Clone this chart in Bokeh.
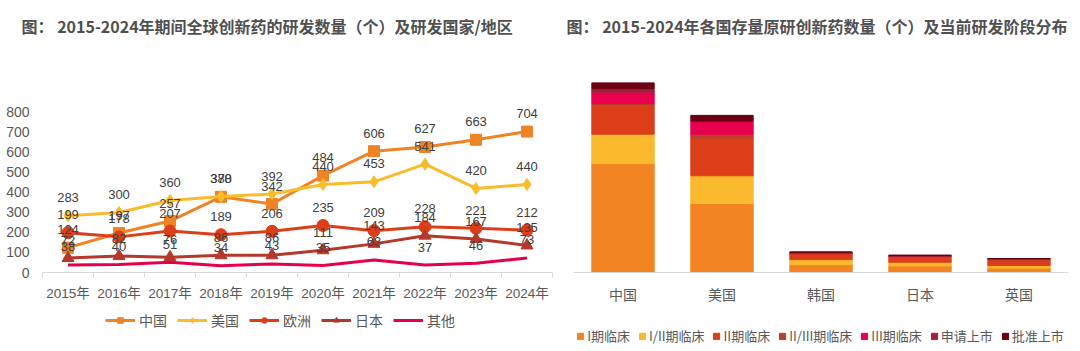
from bokeh.plotting import figure
from bokeh.models import (ColumnDataSource, FixedTicker, Legend, LegendItem,
                          Range1d, FactorRange)
from bokeh.layouts import row, column
from bokeh.embed import file_html
from bokeh.resources import INLINE
from bokeh.core.properties import value

# ---------------- data: left chart ----------------
years = ["2015年", "2016年", "2017年", "2018年", "2019年",
         "2020年", "2021年", "2022年", "2023年", "2024年"]
china = [124, 197, 257, 378, 342, 484, 606, 627, 663, 704]
usa = [283, 300, 360, 380, 392, 440, 453, 541, 420, 440]
europe = [199, 178, 207, 189, 206, 235, 209, 228, 221, 212]
japan = [72, 82, 76, 86, 86, 111, 143, 184, 167, 135]
others = [38, 40, 51, 34, 43, 35, 63, 37, 46, 73]
series_names = ["中国", "美国", "欧洲", "日本", "其他"]
y_ticks = [0, 100, 200, 300, 400, 500, 600, 700, 800]

# ---------------- data: right chart ----------------
countries = ["中国", "美国", "韩国", "日本", "英国"]
stages = ["I期临床", "I/II期临床", "II期临床", "II/III期临床", "III期临床", "申请上市", "批准上市"]
phase1 = [456, 289, 33, 28, 19]
phase1_2 = [123, 116, 21, 15, 10]
phase2 = [124, 159, 25, 24, 23]
phase2_3 = [4, 15, 0, 0, 5]
phase3 = [48, 53, 3, 1, 1]
nda = [15, 2, 3, 3, 0]
approved = [24, 24, 1, 2, 0]

FONT = "Liberation Sans, Noto Sans CJK SC"
CJK = "Noto Sans CJK SC"
TXT = "#595959"
LBL = "#404040"
AXIS = "#d9d9d9"

line_colors = ["#F08326", "#FBBC2C", "#DD3E1A", "#B5392B", "#E6004C"]
stage_colors = ["#F28522", "#FBBA2D", "#DC3E1A", "#B5412E", "#E8004E", "#A31E3F", "#6A0011"]
markers = ["square", "diamond", "circle", "triangle", None]
msizes = [11, 12, 12, 12, 0]

MAIN_H, LEG_H = 306, 45
TOP, BOTTOM = 40, 28


def style_title(p, text, offset):
    p.title.text = text
    p.title.text_font = CJK
    p.title.text_font_size = "16px"
    p.title.text_font_style = "bold"
    p.title.text_color = "#505050"
    p.title.align = "left"
    p.title.offset = offset
    p.title.standoff = 22


def clean(p):
    p.outline_line_color = None
    p.xgrid.visible = False
    p.ygrid.visible = False
    p.background_fill_color = "white"
    p.border_fill_color = "white"


# ================= left figure =================
p1 = figure(width=560, height=MAIN_H, output_backend="svg", toolbar_location=None,
            x_range=Range1d(0, len(years)), y_range=Range1d(0, 1119),
            min_border_left=42, min_border_right=8, min_border_top=TOP,
            min_border_bottom=BOTTOM)
clean(p1)
style_title(p1, "图： 2015-2024年期间全球创新药的研发数量（个）及研发国家/地区", -21)

xs = [i + 0.5 for i in range(len(years))]
data = [china, usa, europe, japan, others]
for vals, col, mk, ms in zip(data, line_colors, markers, msizes):
    src = ColumnDataSource(dict(x=xs, y=vals))
    p1.line("x", "y", source=src, line_color=col, line_width=3)
    if mk is not None:
        p1.scatter("x", "y", source=src, marker=mk, size=ms,
                   fill_color=col, line_color=col)

for vals in data:
    src = ColumnDataSource(dict(x=xs, y=vals, t=[str(v) for v in vals]))
    p1.text("x", "y", text="t", source=src, text_align="center",
            text_baseline="middle", y_offset=-18, text_font=value(FONT),
            text_font_size="13px", text_color=LBL)

p1.yaxis.ticker = FixedTicker(ticks=y_ticks)
p1.yaxis.axis_line_color = None
p1.yaxis.major_tick_line_color = None
p1.yaxis.minor_tick_line_color = None
p1.yaxis.major_label_standoff = 7
p1.yaxis.major_label_text_font = FONT
p1.yaxis.major_label_text_font_size = "14px"
p1.yaxis.major_label_text_color = TXT

p1.xaxis.ticker = FixedTicker(ticks=xs, minor_ticks=list(range(len(years) + 1)))
p1.xaxis.major_label_overrides = {x: y for x, y in zip(xs, years)}
p1.xaxis.axis_line_color = AXIS
p1.xaxis.major_tick_out = 0
p1.xaxis.major_tick_in = 0
p1.xaxis.minor_tick_out = 5
p1.xaxis.minor_tick_in = 0
p1.xaxis.minor_tick_line_color = AXIS
p1.xaxis.major_label_standoff = 8
p1.xaxis.major_label_text_font = FONT
p1.xaxis.major_label_text_font_size = "13.5px"
p1.xaxis.major_label_text_color = TXT

# ================= right figure =================
p2 = figure(width=520, height=MAIN_H, output_backend="svg", toolbar_location=None,
            x_range=FactorRange(factors=countries), y_range=Range1d(0, 938),
            y_axis_location=None,
            min_border_left=13, min_border_right=12, min_border_top=TOP,
            min_border_bottom=BOTTOM)
clean(p2)
style_title(p2, "图： 2015-2024年各国存量原研创新药数量（个）及当前研发阶段分布", -7)

src2 = ColumnDataSource(dict(country=countries,
                             **{stages[0]: phase1, stages[1]: phase1_2,
                                stages[2]: phase2, stages[3]: phase2_3,
                                stages[4]: phase3, stages[5]: nda,
                                stages[6]: approved}))
p2.vbar_stack(stages, x="country", width=0.63, color=stage_colors, source=src2)

p2.xaxis.axis_line_color = AXIS
p2.xaxis.major_tick_line_color = None
p2.xaxis.minor_tick_line_color = None
p2.xaxis.major_label_standoff = 5
p2.xaxis.major_label_text_font = CJK
p2.xaxis.major_label_text_font_size = "14px"
p2.xaxis.major_label_text_color = TXT

# ================= legend strips =================
# The strips' ranges lie left of all data, so their renderers only feed the legend.
def legend_fig(width):
    f = figure(width=width, height=LEG_H, output_backend="svg", toolbar_location=None,
               x_range=Range1d(-3, -2), y_range=Range1d(-3, -2),
               x_axis_location=None, y_axis_location=None, min_border=0)
    clean(f)
    return f


lf1 = legend_fig(560)
items1 = []
for name, vals, col, mk, ms in zip(series_names, data, line_colors, markers, msizes):
    src = ColumnDataSource(dict(x=xs, y=vals))
    rs = [lf1.line("x", "y", source=src, line_color=col, line_width=3)]
    if mk is not None:
        rs.append(lf1.scatter("x", "y", source=src, marker=mk, size=ms,
                              fill_color=col, line_color=col))
    items1.append(LegendItem(label=name, renderers=rs))
lf1.add_layout(Legend(items=items1, orientation="horizontal", location="top_center",
                      margin=4, glyph_width=30, glyph_height=14, label_standoff=4,
                      spacing=10, label_text_font=CJK, label_text_font_size="14px",
                      label_text_color=TXT, border_line_color=None,
                      background_fill_alpha=0, padding=2))

lf2 = legend_fig(520)
bar_x = [i + 0.5 for i in range(len(countries))]
stage_vals = [phase1, phase1_2, phase2, phase2_3, phase3, nda, approved]
items2 = []
for s, vals, c in zip(stages, stage_vals, stage_colors):
    src = ColumnDataSource(dict(x=bar_x, top=vals))
    r = lf2.vbar(x="x", top="top", width=0.5, source=src, fill_color=c, line_color=c)
    items2.append(LegendItem(label=s, renderers=[r]))
lf2.add_layout(Legend(items=items2, orientation="horizontal", location="bottom_center",
                      margin=6, glyph_width=8, glyph_height=8, label_standoff=3,
                      spacing=8, label_text_font=CJK, label_text_font_size="13px",
                      label_text_color=TXT, border_line_color=None,
                      background_fill_alpha=0, padding=2))

layout = column(row(p1, p2), row(lf1, lf2))
open("out.html", "w").write(file_html(layout, INLINE))
